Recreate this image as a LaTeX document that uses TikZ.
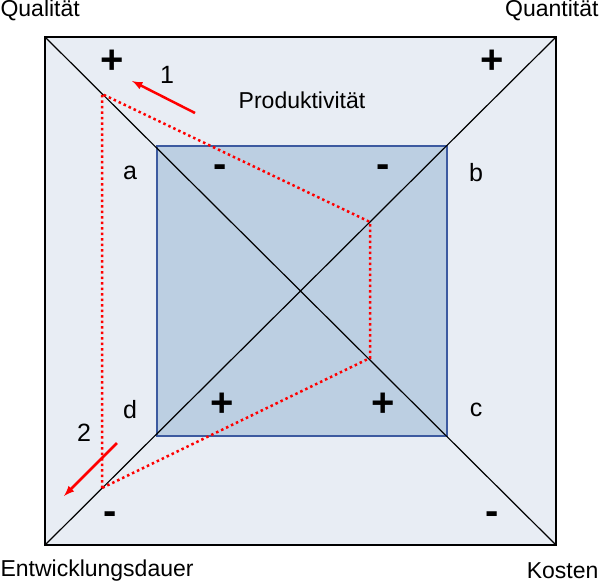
\documentclass[tikz,border=0pt]{standalone}
\usepackage{fontspec}
\setmainfont{Liberation Sans}
\begin{document}
\begin{tikzpicture}[x=1pt,y=-1pt,
  lbl/.style={font=\fontsize{23}{26}\selectfont},
  num/.style={font=\fontsize{25}{28}\selectfont},
  sgn/.style={font=\fontsize{40}{42}\selectfont\bfseries},
  redarr/.style={red,line width=2.5pt,-latex},
  dots/.style={red,line width=2.5pt,dash pattern=on 2.5pt off 3pt}]
\useasboundingbox (0,0) rectangle (600,583);
\coordinate (TL) at (45,37); \coordinate (TR) at (556,37);
\coordinate (BR) at (556,545); \coordinate (BL) at (45,545);
\draw[fill={rgb,255:red,232;green,237;blue,244}, line width=1.5pt] (TL) rectangle (BR);
\draw[fill={rgb,255:red,188;green,207;blue,226}, draw={rgb,255:red,60;green,90;blue,160}, line width=2pt] (157,146) rectangle (447,436);
\draw[line width=1.2pt] (TL) -- (BR) (TR) -- (BL);
\coordinate (p1) at (102,94); \coordinate (p2) at (370,222);
\coordinate (p3) at (370,358); \coordinate (p4) at (102,488);
\draw[dots] (p4) -- (p1) -- (p2) -- (p3) -- (p4);
\coordinate (a1s) at (195,113); \coordinate (a1e) at (132,81);
\draw[redarr] (a1s) -- (a1e);
\coordinate (a2s) at (117,443); \coordinate (a2e) at (64,496);
\draw[redarr] (a2s) -- (a2e);
\node[num] (n1) at (167,75) {1};
\node[num] (n2) at (84,433) {2};
\node[lbl,anchor=west] (q1) at (-3,10) {Qualität};
\node[lbl,anchor=east] (q2) at (602,10) {Quantität};
\node[lbl,anchor=west] (q3) at (-3,571) {Entwicklungsdauer};
\node[lbl,anchor=east] (q4) at (602,571) {Kosten};
\node[lbl] (pr) at (302,100) {Produktivität};
\node[num] (a) at (130,173) {a};
\node[num] (b) at (476,173) {b};
\node[num] (c) at (476,410) {c};
\node[num] (d) at (130,410) {d};
\node[sgn] (s1) at (112,62) {+};
\node[sgn] (s2) at (492,62) {+};
\node[sgn] (s3) at (110,518) {-};
\node[sgn] (s4) at (492,518) {-};
\node[sgn] (s5) at (220,171) {-};
\node[sgn] (s6) at (383,171) {-};
\node[sgn] (s7) at (222,405) {+};
\node[sgn] (s8) at (383,405) {+};
\end{tikzpicture}
\end{document}
